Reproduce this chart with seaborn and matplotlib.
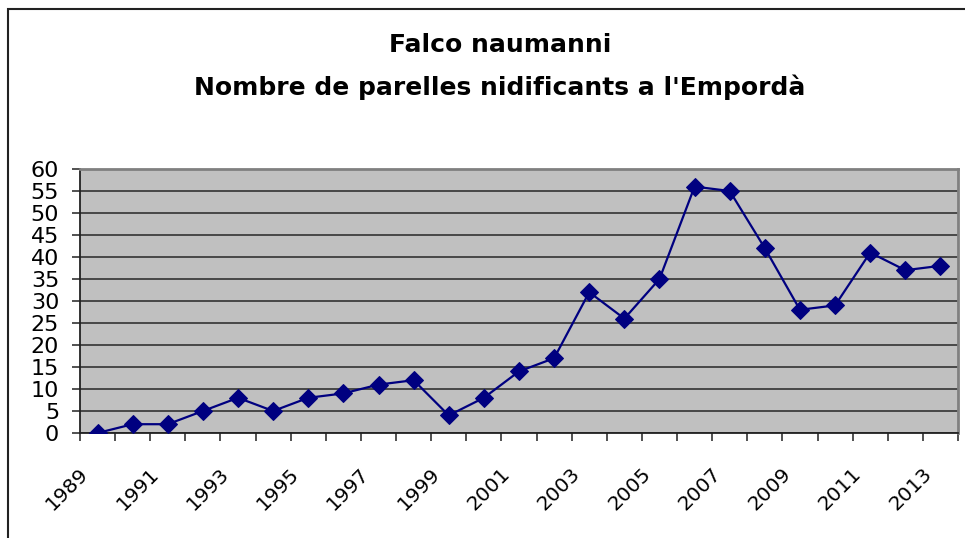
import numpy as np
import pandas as pd
import matplotlib
matplotlib.use("Agg")
import matplotlib.pyplot as plt
from matplotlib.patches import Rectangle
from matplotlib.transforms import ScaledTranslation
from matplotlib.ticker import FixedLocator, MultipleLocator
import seaborn as sns

# Data
years = list(range(1989, 2014))
pairs = [0, 2, 2, 5, 8, 5, 8, 9, 11, 12, 4, 8, 14, 17, 32,
         26, 35, 56, 55, 42, 28, 29, 41, 37, 38]
title_lines = ["Falco naumanni", "Nombre de parelles nidificants a l'Empordà"]

df = pd.DataFrame({"idx": np.arange(len(years)), "year": years, "pairs": pairs})

sns.set_style("white")
plt.rcParams["font.family"] = ["DejaVu Sans"]
plt.rcParams["text.color"] = "black"
plt.rcParams["xtick.labelcolor"] = "black"
plt.rcParams["ytick.labelcolor"] = "black"

fig = plt.figure(figsize=(9.65, 5.38), dpi=100)
ax = fig.add_axes([80 / 965, 1 - 433 / 538, (958 - 80) / 965, (433 - 169) / 538])
ax.set_facecolor("#C0C0C0")

sns.lineplot(data=df, x="idx", y="pairs", ax=ax, color="#000080", linewidth=1.6,
             marker="D", markersize=9, markeredgecolor="#000080", zorder=3)

ax.set_xlim(-0.5, len(years) - 0.5)
ax.set_ylim(0, 60)
ax.yaxis.set_major_locator(MultipleLocator(5))
ax.grid(axis="y", color="#333333", linewidth=1.2)
ax.set_axisbelow(True)

# category ticks: labels on every other year, tick marks on boundaries
ax.xaxis.set_major_locator(FixedLocator(df["idx"][::2].tolist()))
ax.set_xticklabels([str(y) for y in years[::2]])
ax.xaxis.set_minor_locator(FixedLocator(np.arange(-0.5, len(years), 1.0)))
ax.tick_params(axis="x", which="major", length=0, pad=27, labelsize=14.5,
               labelcolor="black")
ax.tick_params(axis="x", which="minor", length=6, width=1.2, color="#333333",
               direction="out", bottom=True)
ax.tick_params(axis="y", length=6, width=1.2, color="#333333", direction="out",
               pad=9, labelsize=16, left=True, labelcolor="black")
for lab in ax.get_xticklabels():
    lab.set_rotation(45)
    lab.set_ha("right")
    lab.set_va("center")
    lab.set_rotation_mode("anchor")
    lab.set_transform(lab.get_transform() + ScaledTranslation(-0.12, 0, fig.dpi_scale_trans))

ax.set_xlabel("")
ax.set_ylabel("")

for side in ["left", "bottom"]:
    ax.spines[side].set_color("#222222")
    ax.spines[side].set_linewidth(1.3)
for side in ["top", "right"]:
    ax.spines[side].set_color("#808080")
    ax.spines[side].set_linewidth(2)

fig.text(500 / 965, 1 - 45 / 538, title_lines[0], ha="center", va="center",
         fontsize=18, fontweight="bold", color="black")
fig.text(500 / 965, 1 - 87 / 538, title_lines[1], ha="center", va="center",
         fontsize=18, fontweight="bold", color="black")

# outer chart border
fig.add_artist(Rectangle((8 / 965, -0.1), 1.2, 1 - 9 / 538 + 0.1,
                         transform=fig.transFigure, fill=False,
                         edgecolor="#222222", linewidth=1.5))

fig.savefig("out.png", dpi=100)
